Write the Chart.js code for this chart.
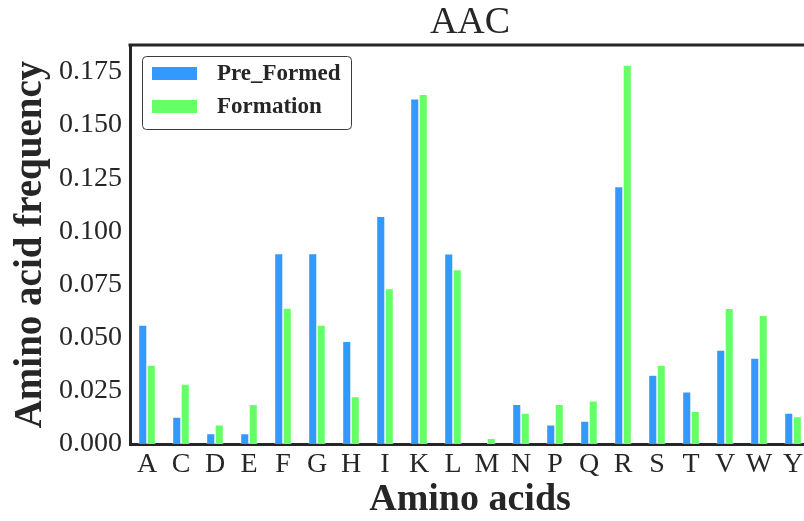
<!DOCTYPE html>
<html lang="en">
<head>
    <meta charset="UTF-8">
    <title>AAC</title>
    <style>
        html, body { margin: 0; padding: 0; background: #fff; overflow: hidden; }
        .wrap { width: 804px; height: 521px; overflow: hidden; }
        canvas { display: block; }
    </style>
    <script src="https://cdn.jsdelivr.net/npm/chart.js"></script>
</head>
<body>
    <div class="wrap">
        <canvas id="chart" width="812" height="521"></canvas>
    </div>
    <script>
        // values
        const aminoAcids = ['A','C','D','E','F','G','H','I','K','L','M','N','P','Q','R','S','T','V','W','Y'];
        const preFormed = [0.0560, 0.0127, 0.0049, 0.0049, 0.0896, 0.0896, 0.0483, 0.1071, 0.1624, 0.0895,
                           0.0000, 0.0187, 0.0090, 0.0108, 0.1211, 0.0324, 0.0245, 0.0442, 0.0404, 0.0146];
        const formation = [0.0371, 0.0282, 0.0090, 0.0187, 0.0640, 0.0560, 0.0223, 0.0731, 0.1645, 0.0821,
                           0.0027, 0.0146, 0.0187, 0.0203, 0.1783, 0.0371, 0.0154, 0.0638, 0.0605, 0.0129];
        const yMax = 0.1877;
        const yStep = 0.025;

        const serif = "'Liberation Serif', 'Times New Roman', serif";
        const axisColor = '#262626';

        // legend box inside the plot + top spine
        const frame = {
            id: 'frame',
            afterDraw(chart) {
                const ctx = chart.ctx, a = chart.chartArea;
                ctx.save();
                ctx.strokeStyle = axisColor;
                ctx.lineWidth = 3;
                ctx.beginPath();
                ctx.moveTo(a.left - 1.5, a.top);
                ctx.lineTo(chart.width, a.top);
                ctx.stroke();

                // legend
                const x = 142.5, y = 56.5, w = 209, h = 73;
                ctx.fillStyle = 'rgba(255,255,255,0.85)';
                ctx.strokeStyle = '#3a3a3a';
                ctx.lineWidth = 1;
                ctx.beginPath();
                ctx.roundRect(x, y, w, h, 4);
                ctx.fill();
                ctx.stroke();
                ctx.font = 'bold 23px ' + serif;
                ctx.textBaseline = 'middle';
                chart.data.datasets.forEach((ds, i) => {
                    const cy = 73.5 + i * 33;
                    ctx.fillStyle = ds.backgroundColor;
                    ctx.fillRect(152, cy - 6.5, 45, 13);
                    ctx.fillStyle = '#262626';
                    ctx.fillText(ds.label, 217, cy + 1);
                });
                ctx.restore();
            }
        };

        new Chart(document.getElementById('chart'), {
            type: 'bar',
            data: {
                labels: aminoAcids,
                datasets: [
                    { label: 'Pre_Formed', data: preFormed, backgroundColor: '#3399ff', borderColor: '#ffffff', borderWidth: 0.7 },
                    { label: 'Formation', data: formation, backgroundColor: '#66ff66', borderColor: '#ffffff', borderWidth: 0.7 }
                ]
            },
            options: {
                responsive: false,
                animation: false,
                devicePixelRatio: 1,
                layout: { padding: { left: 0, right: 2, top: 0, bottom: 0 } },
                datasets: { bar: { categoryPercentage: 0.5, barPercentage: 1.0 } },
                plugins: {
                    legend: { display: false },
                    tooltip: { enabled: false },
                    title: {
                        display: true,
                        text: 'AAC',
                        fullSize: false,
                        color: '#262626',
                        font: { family: serif, size: 38, weight: 'normal', lineHeight: 1 },
                        padding: { top: 4, bottom: 3 }
                    }
                },
                scales: {
                    x: {
                        grid: { display: false, drawTicks: false },
                        border: { display: true, color: axisColor, width: 3 },
                        ticks: {
                            color: '#262626', autoSkip: false, maxRotation: 0, padding: 4,
                            font: { family: serif, size: 28 }
                        },
                        title: {
                            display: true, text: 'Amino acids', color: '#262626',
                            font: { family: serif, size: 38, weight: 'bold', lineHeight: 1 },
                            padding: { top: 0, bottom: 2 }
                        },
                        afterFit(scale) { scale.height = 77; }
                    },
                    y: {
                        min: 0,
                        max: yMax,
                        grid: { display: false, drawTicks: false },
                        border: { display: true, color: axisColor, width: 3 },
                        ticks: {
                            stepSize: yStep, includeBounds: false, color: '#262626', padding: 8,
                            font: { family: serif, size: 28 }
                        ,
                            callback: v => v.toFixed(3)
                        },
                        title: {
                            display: true, text: 'Amino acid frequency', color: '#262626',
                            font: { family: serif, size: 39, weight: 'bold', lineHeight: 1 },
                            padding: { top: 11, bottom: 0 }
                        },
                        afterFit(scale) { scale.width = 130; }
                    }
                }
            },
            plugins: [frame]
        });
    </script>
</body>
</html>
